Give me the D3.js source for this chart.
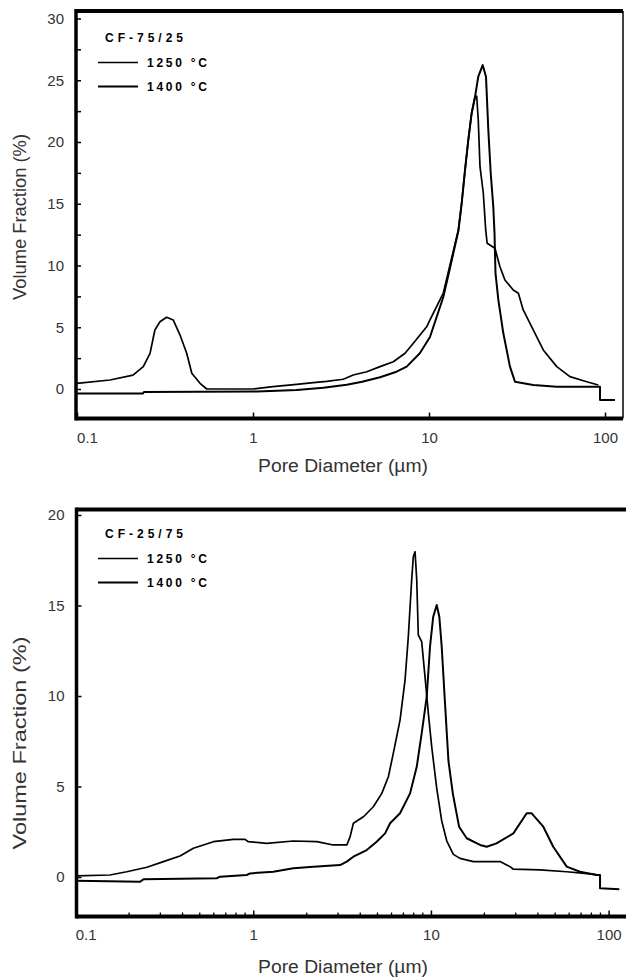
<!DOCTYPE html>
<html>
<head>
<meta charset="utf-8">
<script src="https://cdn.jsdelivr.net/npm/d3@7"></script>
<style>
  body { margin: 0; background: #fff; }
  svg { display: block; }
</style>
</head>
<body>
<script>
// Pore size distributions: [pore diameter (um), volume fraction (%)]
var top1250 = [[0.1,0.46],[0.154,0.73],[0.208,1.13],[0.238,1.81],[0.26,2.89],[0.277,4.78],[0.296,5.45],
  [0.323,5.81],[0.352,5.59],[0.385,4.37],[0.42,2.89],[0.449,1.27],[0.5,0.46],[0.546,0.0],[1.0,0.0],
  [1.3,0.19],[1.77,0.38],[2.2,0.51],[2.62,0.62],[3.26,0.79],[3.71,1.13],[4.43,1.4],[5.27,1.81],
  [6.27,2.21],[7.31,2.89],[8.15,3.7],[9.7,5.04],[10.13,5.59],[12.06,7.77],[13.16,10.04],[14.68,12.87],
  [15.34,15.06],[16.02,17.73],[16.72,20.16],[17.48,22.35],[18.25,23.64],[18.66,23.72],[19.05,21.78],
  [19.49,18.0],[20.35,15.85],[21.0,12.87],[21.4,11.8],[23.7,11.39],[25.3,9.9],[27.0,8.83],[30.1,8.02],
  [32.2,7.75],[34.3,6.4],[39.1,4.78],[44.6,3.16],[53.2,1.81],[63.2,1.0],[78.7,0.59],[91.6,0.32]];

var top1400 = [[0.1,-0.36],[0.237,-0.36],[0.24,-0.24],[1.054,-0.2],[1.77,-0.08],[2.51,0.11],[3.41,0.35],
  [4.17,0.59],[5.27,0.95],[6.54,1.4],[7.47,1.81],[8.87,2.89],[10.13,4.21],[12.06,7.45],[13.16,9.8],
  [14.68,12.79],[15.34,15.06],[16.02,17.73],[16.72,20.16],[17.48,22.35],[18.25,23.64],[19.05,25.29],
  [20.18,26.23],[21.08,25.29],[21.73,20.97],[22.42,17.49],[23.19,14.76],[23.56,12.63],[23.87,9.39],
  [24.77,7.21],[26.43,4.53],[28.84,1.81],[30.8,0.59],[39.1,0.32],[53.2,0.19],[93.7,0.19],[93.7,-0.89],
  [114,-0.89]];

var bottom1250 = [[0.1,0.06],[0.156,0.11],[0.194,0.29],[0.252,0.54],[0.312,0.85],[0.387,1.16],[0.46,1.59],
  [0.524,1.77],[0.596,1.95],[0.773,2.08],[0.899,2.08],[0.938,1.95],[1.19,1.86],[1.68,1.99],[2.28,1.95],
  [2.82,1.77],[3.36,1.77],[3.51,2.23],[3.66,2.97],[4.17,3.33],[4.74,3.88],[5.29,4.62],[5.76,5.54],
  [6.14,6.83],[6.7,8.67],[7.15,10.88],[7.46,13.28],[7.79,16.41],[7.96,17.7],[8.14,17.97],[8.32,16.41],
  [8.49,13.37],[8.87,13.0],[9.26,11.07],[9.67,9.04],[10.1,7.2],[10.78,4.9],[11.5,3.1],[12.27,2.0],
  [13.37,1.25],[14.58,1.03],[17.33,0.85],[24.5,0.85],[27.9,0.57],[29.1,0.43],[41.1,0.39],[58.1,0.29],
  [78.5,0.17],[87.5,0.11]];

var bottom1400 = [[0.1,-0.2],[0.2307,-0.26],[0.2407,-0.13],[0.623,-0.07],[0.65,0.02],[0.919,0.11],
  [0.959,0.2],[1.297,0.29],[1.682,0.48],[2.18,0.57],[3.08,0.66],[3.36,0.85],[3.66,1.12],[4.35,1.49],
  [4.95,1.95],[5.52,2.41],[5.89,2.97],[6.7,3.52],[7.63,4.62],[8.32,6.09],[8.87,7.94],[9.47,9.96],
  [9.88,12.72],[10.3,14.38],[10.78,15.03],[11.15,14.38],[11.5,12.72],[12.0,9.6],[12.55,6.41],
  [13.3,4.57],[14.4,2.78],[15.9,2.14],[18.9,1.77],[20.6,1.67],[23.4,1.86],[29.1,2.41],[34.6,3.52],
  [36.9,3.52],[42.9,2.78],[48.8,1.67],[58.1,0.57],[69.0,0.29],[85.7,0.11],[89.5,0.11],[89.5,-0.62],
  [114.9,-0.68]];

// Axis ticks and labels
var xMajorTicks = [0.1, 1, 10, 100];
var topYTicks = [0, 2.5, 5, 7.5, 10, 12.5, 15, 17.5, 20, 22.5, 25, 27.5, 30];
var bottomYTicks = [0, 5, 10, 15, 20];
var seriesNames = ["1250 \u00b0C", "1400 \u00b0C"];
var sampleNames = ["CF-75/25", "CF-25/75"];
var xTitle = "Pore Diameter (\u00b5m)";
var yTitle = "Volume Fraction (%)";

var W = 626;
var H = 979;
var FONT = "'Liberation Sans', Arial, sans-serif";

var svg = d3.select("body").append("svg")
  .attr("width", W)
  .attr("height", H);

function drawPanel(p) {
  var x = d3.scaleLog().domain([0.1, 100]).range(p.xRange);
  var y = d3.scaleLinear().domain(p.yDomain).range(p.yRange);
  var f = p.frame;
  var g = svg.append("g");

  //clip so the curves stay inside the frame
  g.append("clipPath").attr("id", p.id + "-clip")
    .append("rect")
    .attr("x", f.l).attr("y", f.t)
    .attr("width", f.r - f.l).attr("height", f.b - f.t);

  //x axis, ticks pointing into the plot
  var xAxis = d3.axisBottom(x)
    .tickValues(xMajorTicks)
    .tickFormat(function(d) { return String(d); })
    .tickSizeInner(-6)
    .tickSizeOuter(0)
    .tickPadding(p.xPad);
  var gx = g.append("g")
    .attr("transform", "translate(0," + f.b + ")")
    .call(xAxis);
  gx.select(".domain").remove();
  gx.attr("font-size", 15).attr("font-family", FONT);
  gx.selectAll("line").attr("stroke", "#000").attr("stroke-width", 1.5);
  gx.selectAll("text").attr("fill", "#333");
  gx.selectAll(".tick text").filter(function(d) { return d === 0.1; }).attr("dx", 10);

  if (p.minor) {
    var minor = x.ticks().filter(function(d) { return xMajorTicks.indexOf(d) < 0 && d < 100; });
    g.selectAll(".minor")
      .data(minor)
      .enter()
      .append("line")
      .attr("x1", function(d) { return x(d); })
      .attr("x2", function(d) { return x(d); })
      .attr("y1", f.b)
      .attr("y2", f.b - 4)
      .attr("stroke", "#000")
      .attr("stroke-width", 1.3);
  }

  //y axis
  var yAxis = d3.axisLeft(y)
    .tickValues(p.yTicks)
    .tickFormat(function(d) { return d % 5 === 0 ? d : ""; })
    .tickSizeInner(-5)
    .tickSizeOuter(0)
    .tickPadding(12);
  var gy = g.append("g")
    .attr("transform", "translate(" + f.l + ",0)")
    .call(yAxis);
  gy.select(".domain").remove();
  gy.attr("font-size", 15).attr("font-family", FONT);
  gy.selectAll("line").attr("stroke", "#000").attr("stroke-width", 1.5);
  gy.selectAll("text").attr("fill", "#333");

  //frame: heavy left, top and bottom, light right
  g.append("line").attr("x1", f.l).attr("x2", f.r).attr("y1", f.t).attr("y2", f.t)
    .attr("stroke", "#000").attr("stroke-width", 4);
  g.append("line").attr("x1", f.l).attr("x2", f.r).attr("y1", f.b).attr("y2", f.b)
    .attr("stroke", "#000").attr("stroke-width", 4);
  g.append("line").attr("x1", f.l).attr("x2", f.l).attr("y1", f.t - 2).attr("y2", f.b + 2)
    .attr("stroke", "#000").attr("stroke-width", 3.5);
  g.append("line").attr("x1", f.r).attr("x2", f.r).attr("y1", f.t).attr("y2", f.b)
    .attr("stroke", "#000").attr("stroke-width", 1.5);

  //curves
  var line = d3.line()
    .x(function(d) { return x(d[0]); })
    .y(function(d) { return y(d[1]); });
  var curves = g.append("g").attr("clip-path", "url(#" + p.id + "-clip)");
  [p.s1250, p.s1400].forEach(function(s, i) {
    curves.append("path")
      .datum(s)
      .attr("d", line)
      .attr("fill", "none")
      .attr("stroke", "#000")
      .attr("stroke-width", i === 0 ? 1.7 : 2)
      .attr("stroke-linejoin", "round");
  });

  //legend
  g.append("text")
    .attr("x", 105)
    .attr("y", p.legendY)
    .attr("font-family", FONT)
    .attr("font-size", 12)
    .attr("font-weight", "bold")
    .attr("textLength", 78)
    .attr("lengthAdjust", "spacing")
    .text(p.name);
  seriesNames.forEach(function(name, i) {
    var ly = p.legendY + 20.5 + 24 * i;
    g.append("line")
      .attr("x1", 98).attr("x2", 138)
      .attr("y1", ly).attr("y2", ly)
      .attr("stroke", "#000")
      .attr("stroke-width", i === 0 ? 1.3 : 2);
    g.append("text")
      .attr("x", 147)
      .attr("y", ly + 4.5)
      .attr("font-family", FONT)
      .attr("font-size", 12)
      .attr("font-weight", "bold")
      .attr("textLength", 60)
      .attr("lengthAdjust", "spacing")
      .text(name);
  });

  //axis titles
  g.append("text")
    .attr("x", 343)
    .attr("y", p.xTitleY)
    .attr("text-anchor", "middle")
    .attr("font-family", FONT)
    .attr("font-size", 18)
    .attr("fill", "#333")
    .attr("textLength", 170)
    .attr("lengthAdjust", "spacingAndGlyphs")
    .text(xTitle);
  g.append("text")
    .attr("transform", "translate(26," + p.yTitleCY + ") rotate(-90)")
    .attr("text-anchor", "middle")
    .attr("font-family", FONT)
    .attr("font-size", 18)
    .attr("fill", "#333")
    .attr("textLength", p.yTitleLen)
    .attr("lengthAdjust", "spacingAndGlyphs")
    .text(yTitle);
}

function main() {
  drawPanel({
    id: "top", name: sampleNames[0], s1250: top1250, s1400: top1400,
    frame: {l: 76, r: 623, t: 11, b: 418.5},
    xRange: [77, 605], yDomain: [0, 30], yRange: [389, 18.5],
    yTicks: topYTicks, minor: false, xPad: 14,
    legendY: 42, xTitleY: 472, yTitleCY: 217, yTitleLen: 166
  });
  drawPanel({
    id: "bottom", name: sampleNames[1], s1250: bottom1250, s1400: bottom1400,
    frame: {l: 76.5, r: 628, t: 509.5, b: 916.5},
    xRange: [75.6, 608.6], yDomain: [0, 20], yRange: [877, 515],
    yTicks: bottomYTicks, minor: true, xPad: 13,
    legendY: 538, xTitleY: 973, yTitleCY: 743, yTitleLen: 213
  });
}

main();
</script>
</body>
</html>
